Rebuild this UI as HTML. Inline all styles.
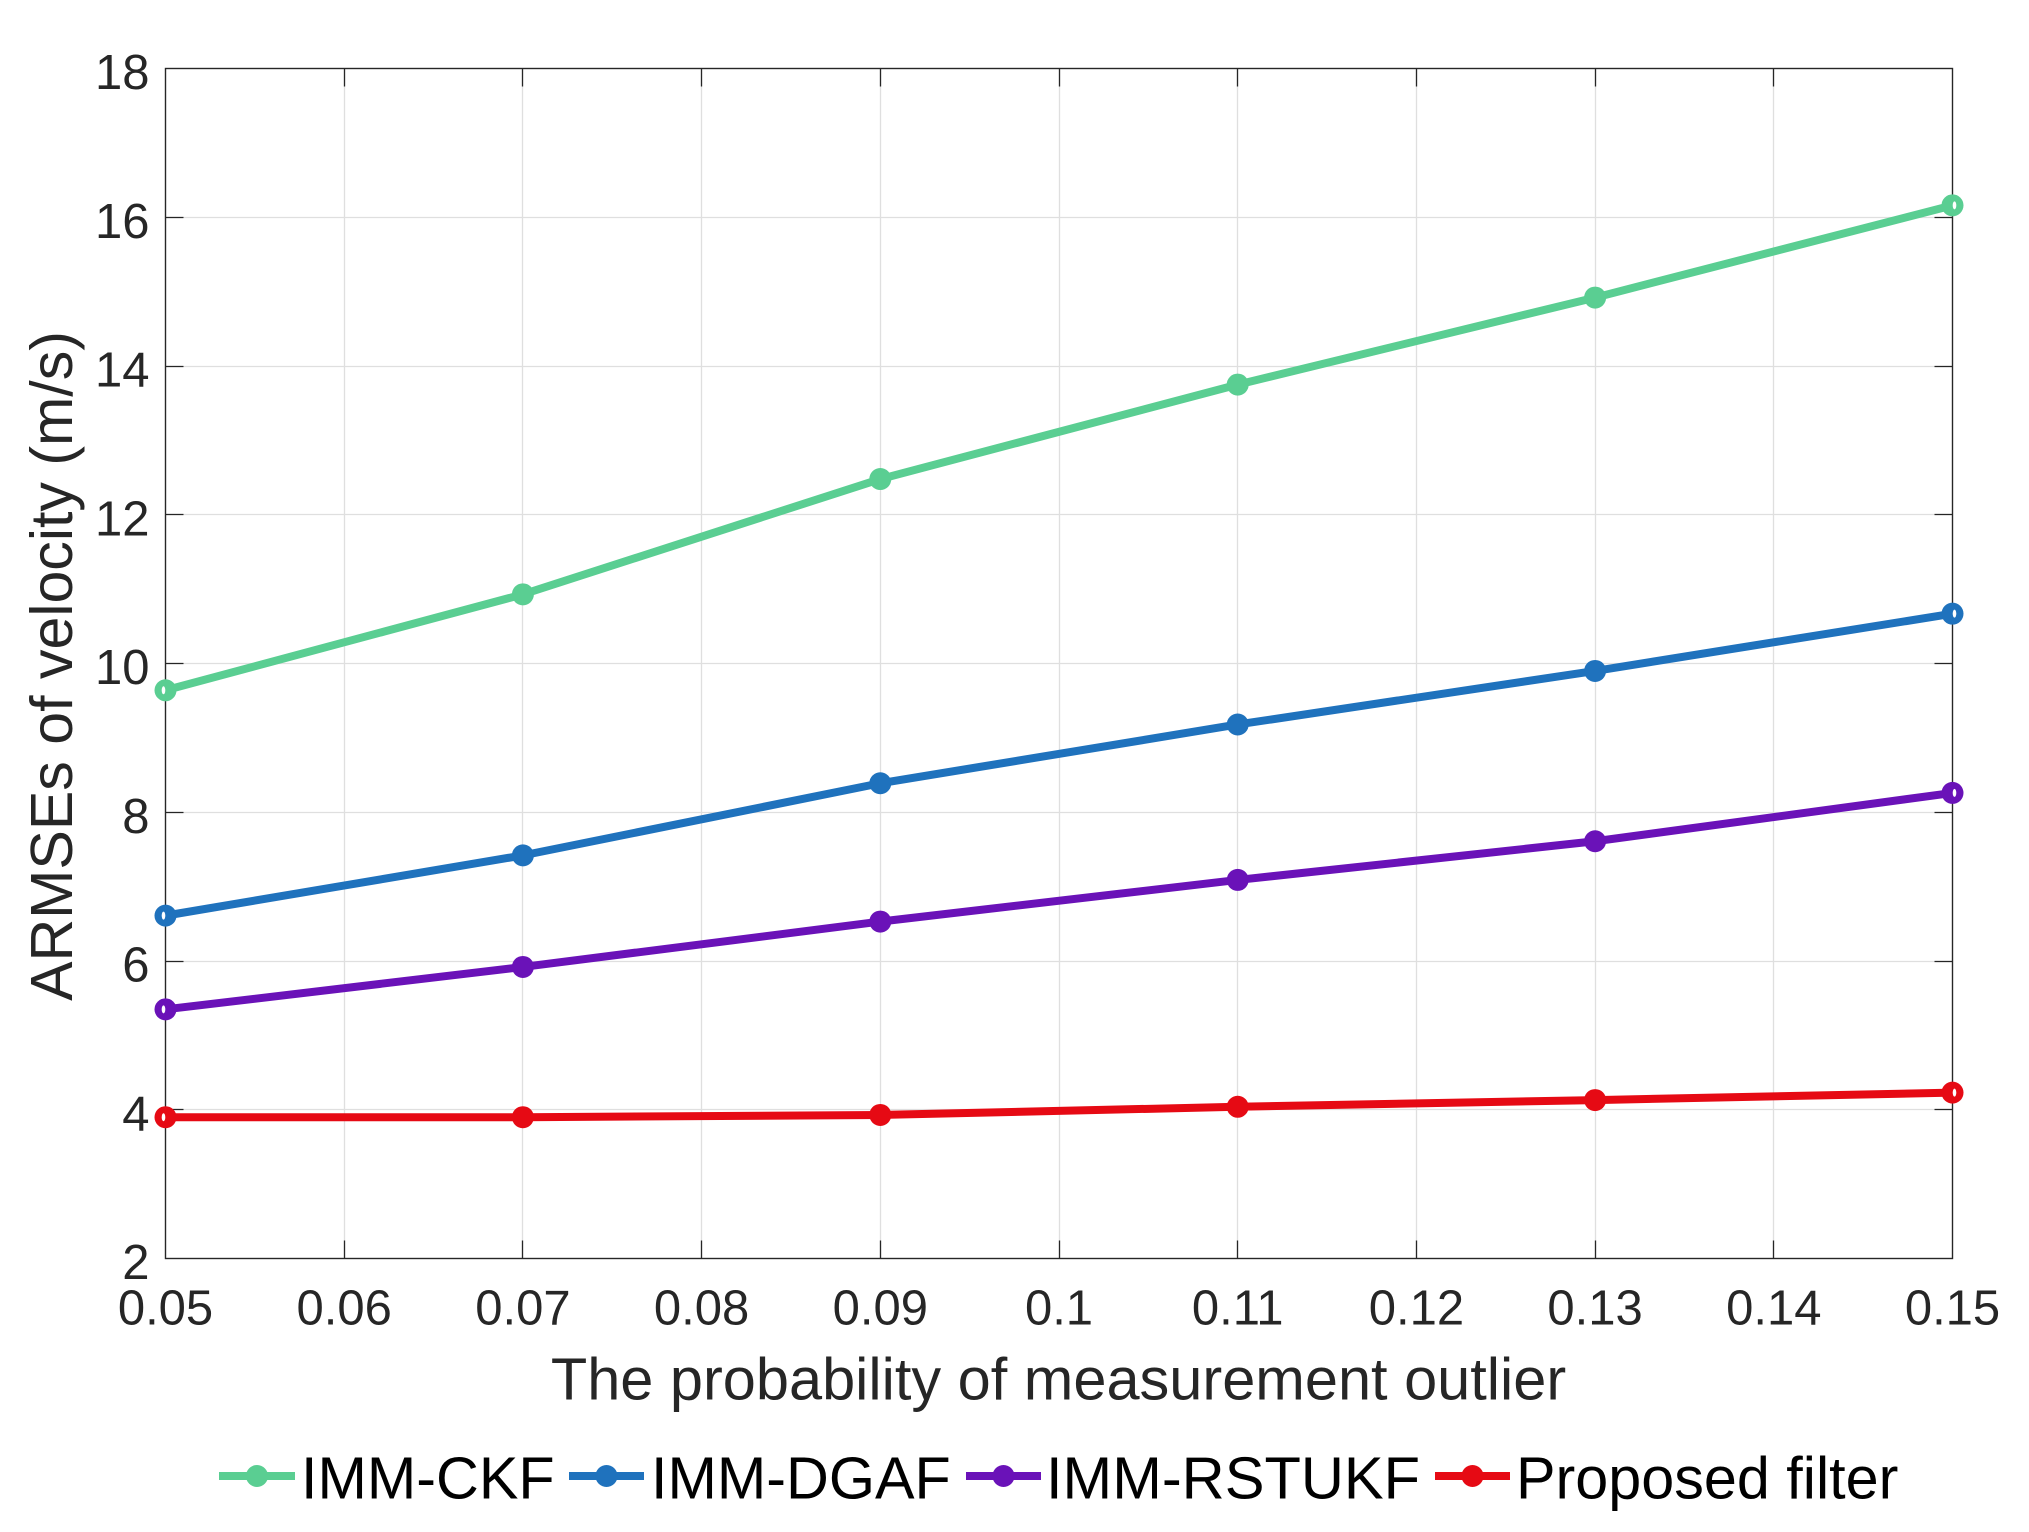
<!DOCTYPE html>
<html>
<head>
<meta charset="utf-8">
<title>ARMSEs of velocity chart</title>
<style>
html,body{margin:0;padding:0;background:#fff;}
svg{display:block;font-family:"Liberation Sans",Arial,sans-serif;}
</style>
</head>
<body>
<svg id="chart" xmlns="http://www.w3.org/2000/svg" width="2029" height="1532" viewBox="0 0 2029 1532">
  <rect x="0" y="0" width="2029" height="1532" fill="#fff"/>
  <g id="grid"></g>
  <g id="frame"></g>
  <g id="series"></g>
  <g id="xlabels"></g>
  <g id="ylabels"></g>
  <text x="1058.5" y="1399.3" font-size="59.5" fill="#262626" text-anchor="middle">The probability of measurement outlier</text>
  <text transform="translate(72,666) rotate(-90)" font-size="59.1" fill="#262626" text-anchor="middle">ARMSEs of velocity (m/s)</text>
  <g>
    <g>
      <line x1="219" x2="295" y1="1476" y2="1476" stroke="#5ACE92" stroke-width="8"/>
      <circle cx="257" cy="1476" r="11" fill="#5ACE92"/>
      <text x="301" y="1498.5" font-size="59.3" fill="#000">IMM-CKF</text>
    </g>
    <g>
      <line x1="569" x2="644" y1="1476" y2="1476" stroke="#1F72BD" stroke-width="8"/>
      <circle cx="606.5" cy="1476" r="11" fill="#1F72BD"/>
      <text x="651" y="1498.5" font-size="59.3" fill="#000">IMM-DGAF</text>
    </g>
    <g>
      <line x1="966" x2="1041" y1="1476" y2="1476" stroke="#6A12B8" stroke-width="8"/>
      <circle cx="1003.5" cy="1476" r="11" fill="#6A12B8"/>
      <text x="1046" y="1498.5" font-size="59.6" fill="#000">IMM-RSTUKF</text>
    </g>
    <g>
      <line x1="1435" x2="1510" y1="1476" y2="1476" stroke="#E60A14" stroke-width="8"/>
      <circle cx="1472.5" cy="1476" r="11" fill="#E60A14"/>
      <text x="1516" y="1498.5" font-size="59.3" fill="#000">Proposed filter</text>
    </g>
  </g>
</svg>
<script>
const xValues = [0.05, 0.07, 0.09, 0.11, 0.13, 0.15];
const immCkf = [9.64, 10.93, 12.48, 13.75, 14.92, 16.16];
const immDgaf = [6.61, 7.42, 8.39, 9.18, 9.90, 10.67];
const immRstukf = [5.35, 5.92, 6.53, 7.09, 7.61, 8.26];
const proposedFilter = [3.90, 3.90, 3.93, 4.04, 4.13, 4.23];
const xTicks = [0.05, 0.06, 0.07, 0.08, 0.09, 0.1, 0.11, 0.12, 0.13, 0.14, 0.15];
const yTicks = [2, 4, 6, 8, 10, 12, 14, 16, 18];

const NS = 'http://www.w3.org/2000/svg';
const L = 165.5, R = 1952.5, T = 68.5, B = 1258.5;
const xScale = v => L + (v - 0.05) / 0.10 * (R - L);
const yScale = v => B - (v - 2) / 16 * (B - T);

function mk(tag, parent, attrs) {
  const el = document.createElementNS(NS, tag);
  for (const k in attrs) el.setAttribute(k, attrs[k]);
  parent.appendChild(el);
  return el;
}

const grid = document.getElementById('grid');
const frame = document.getElementById('frame');
const seriesG = document.getElementById('series');
const xl = document.getElementById('xlabels');
const yl = document.getElementById('ylabels');
const TICK = 18;

xTicks.forEach(function (t, idx) {
  const x = Math.floor(xScale(t)) + 0.5;
  if (idx > 0 && idx < xTicks.length - 1) {
    const g = mk('line', grid, { x1: x, x2: x, y1: T, y2: B, stroke: '#DFDFDF', 'stroke-width': 1.3 });
    
    
    const a = mk('line', frame, { x1: x, x2: x, y1: B, y2: B - TICK, stroke: '#262626', 'stroke-width': 1.3 });
    
    
    const b = mk('line', frame, { x1: x, x2: x, y1: T, y2: T + TICK, stroke: '#262626', 'stroke-width': 1.3 });
    
    
  }
  const lbl = mk('text', xl, { x: xScale(t), y: 1324.3, 'font-size': 49, fill: '#262626', 'text-anchor': 'middle' });
  
  
  lbl.textContent = String(t);
});

yTicks.forEach(function (t, idx) {
  const y = Math.floor(yScale(t)) + 0.5;
  if (idx > 0 && idx < yTicks.length - 1) {
    const g = mk('line', grid, { x1: L, x2: R, y1: y, y2: y, stroke: '#DFDFDF', 'stroke-width': 1.3 });
    
    
    const a = mk('line', frame, { x1: L, x2: L + TICK, y1: y, y2: y, stroke: '#262626', 'stroke-width': 1.3 });
    
    
    const b = mk('line', frame, { x1: R, x2: R - TICK, y1: y, y2: y, stroke: '#262626', 'stroke-width': 1.3 });
    
    
  }
  const lbl = mk('text', yl, { x: 149.5, y: yScale(t) + 20.5, 'font-size': 49, fill: '#262626', 'text-anchor': 'end' });
  
  
  lbl.textContent = String(t);
});

const box = mk('rect', frame, { x: L, y: T, width: R - L, height: B - T, fill: 'none', stroke: '#262626', 'stroke-width': 1.4 });



const seriesList = [
  ['imm-ckf', immCkf, '#5ACE92'],
  ['imm-dgaf', immDgaf, '#1F72BD'],
  ['imm-rstukf', immRstukf, '#6A12B8'],
  ['proposed-filter', proposedFilter, '#E60A14']
];

seriesList.forEach(function (s) {
  const pts = s[1].map((v, i) => xScale(xValues[i]).toFixed(2) + ',' + yScale(v).toFixed(2)).join(' ');
  const line = mk('polyline', seriesG, { points: pts, fill: 'none', stroke: s[2], 'stroke-width': 8, 'stroke-linejoin': 'round' });
  
  
  s[1].forEach(function (v, i) {
    const c = mk('circle', seriesG, { cx: xScale(xValues[i]), cy: yScale(v), r: 11, fill: s[2] });
    
    
    if (i === 0 || i === s[1].length - 1) {
      const dir = i === 0 ? -1 : 1;
      const h = mk('ellipse', seriesG, { cx: xScale(xValues[i]) + dir * 2, cy: yScale(v), rx: 1.8, ry: 4, fill: '#fff' });
      
      
    }
  });
});
</script>
</body>
</html>
